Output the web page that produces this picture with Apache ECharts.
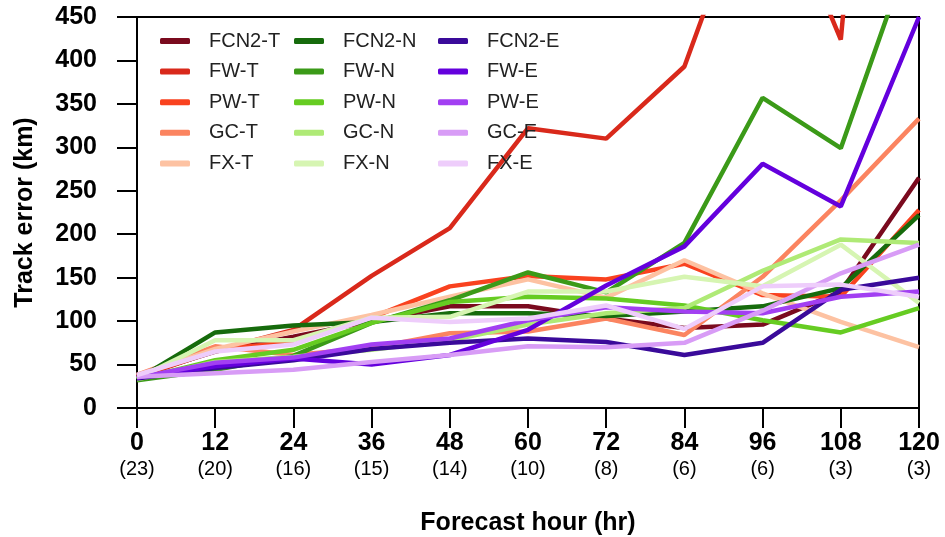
<!DOCTYPE html>
<html>
<head>
<meta charset="utf-8">
<script src="https://cdn.jsdelivr.net/npm/echarts@6/dist/echarts.min.js"></script>
<style>
html,body{margin:0;padding:0;background:#fff;}
#chart{width:945px;height:537px;}
</style>
</head>
<body>
<div id="chart"></div>
<script>
// ---- data ----
const hours = [0, 12, 24, 36, 48, 60, 72, 84, 96, 108, 120];
const caseCounts = ['23', '20', '16', '15', '14', '10', '8', '6', '6', '3', '3'];
const yTicks = [0, 50, 100, 150, 200, 250, 300, 350, 400, 450];

const names = ['FCN2-T', 'FW-T', 'PW-T', 'GC-T', 'FX-T',
               'FCN2-N', 'FW-N', 'PW-N', 'GC-N', 'FX-N',
               'FCN2-E', 'FW-E', 'PW-E', 'GC-E', 'FX-E'];

const fcn2T = [37, 65, 82, 100, 117, 117, 103, 92, 96, 134, 265];
const fwT   = [35, 66, 90, 152, 207, 322, 310, 393, 640, 424, 1400];
const pwT   = [36, 67, 76, 104, 140, 152, 148, 166, 130, 128, 228];
const gcT   = [38, 71, 61, 69, 86, 88, 103, 84, 151, 239, 333];
const fxT   = [37, 68, 88, 107, 128, 148, 127, 170, 132, 99, 70];

const fcn2N = [33, 87, 95, 99, 109, 109, 106, 111, 117, 138, 222];
const fwN   = [32, 44, 60, 98, 124, 156, 133, 190, 357, 299, 555];
const pwN   = [33, 55, 67, 98, 122, 128, 126, 118, 101, 87, 115];
const gcN   = [33, 53, 59, 67, 78, 96, 109, 115, 158, 194, 190];
const fxN   = [34, 78, 78, 104, 105, 134, 134, 151, 140, 188, 121];

const fcn2E = [34, 46, 55, 68, 75, 80, 76, 61, 75, 136, 150];
const fwE   = [35, 48, 57, 50, 61, 90, 141, 186, 281, 232, 450];
const pwE   = [35, 52, 58, 73, 80, 101, 116, 111, 109, 128, 134];
const gcE   = [36, 40, 44, 53, 61, 71, 70, 75, 112, 155, 188];
const fxE   = [38, 65, 73, 104, 99, 103, 118, 91, 140, 142, 128];

const seriesValues = [fcn2T, fwT, pwT, gcT, fxT, fcn2N, fwN, pwN, gcN, fxN, fcn2E, fwE, pwE, gcE, fxE];
const colors = ['#7a0a1e', '#d9291b', '#f9421f', '#fb8460', '#fdc2a2',
                '#166b0c', '#3b9a18', '#66cc22', '#afea76', '#d6f5b2',
                '#3a0a9a', '#6400dd', '#a23ff2', '#d89cf6', '#eecdfb'];

// ---- chart ----
const chart = echarts.init(document.getElementById('chart'), null, {renderer: 'canvas'});
const FONT = '"Liberation Sans", Arial, Helvetica, sans-serif';

const series = names.map((n, i) => ({
  name: n,
  type: 'line',
  color: colors[i],
  data: hours.map((h, k) => [h, seriesValues[i][k]]),
  showSymbol: false,
  symbol: 'none',
  clip: true,
  lineStyle: {width: 4.5, color: colors[i]},
  emphasis: {disabled: true}
}));

function legendCol(left, items) {
  return {
    orient: 'vertical',
    left: left,
    top: 26,
    itemWidth: 30,
    itemHeight: 6,
    itemGap: 10.6,
    icon: 'roundRect',
    data: items,
    textStyle: {fontFamily: FONT, fontSize: 20, color: '#222', padding: [0, 0, 0, 14]},
    selectedMode: false
  };
}

chart.setOption({
  animation: false,
  backgroundColor: '#fff',
  grid: {left: 137, right: 26, top: 17, bottom: 129, containLabel: false, outerBoundsMode: 'none',
         show: true, borderColor: '#000', borderWidth: 2, backgroundColor: 'transparent'},
  legend: [
    legendCol(155, names.slice(0, 5)),
    legendCol(289, names.slice(5, 10)),
    legendCol(433, names.slice(10, 15))
  ],
  xAxis: {
    type: 'value',
    min: 0, max: 120, interval: 12,
    name: 'Forecast hour (hr)',
    nameLocation: 'middle',
    nameGap: 103,
    nameTextStyle: {fontFamily: FONT, fontSize: 25, fontWeight: 'bold', color: '#000'},
    axisLine: {show: true, lineStyle: {color: '#000', width: 2}},
    axisTick: {show: true, inside: false, length: 20, lineStyle: {color: '#000', width: 2}},
    splitLine: {show: false},
    axisLabel: {
      margin: 23,
      formatter: v => '{a|' + v + '}\n{b|(' + caseCounts[Math.round(v / 12)] + ')}',
      rich: {
        a: {fontFamily: FONT, fontSize: 25, fontWeight: 'bold', color: '#000', lineHeight: 25},
        b: {fontFamily: FONT, fontSize: 20, color: '#000', lineHeight: 27}
      }
    }
  },
  yAxis: {
    type: 'value',
    min: yTicks[0], max: yTicks[yTicks.length - 1], interval: 50,
    name: 'Track error (km)',
    nameLocation: 'middle',
    nameGap: 99,
    nameTextStyle: {fontFamily: FONT, fontSize: 25, fontWeight: 'bold', color: '#000'},
    axisLine: {show: true, lineStyle: {color: '#000', width: 2}},
    axisTick: {show: true, inside: false, length: 20, lineStyle: {color: '#000', width: 2}},
    splitLine: {show: false},
    axisLabel: {margin: 40, fontFamily: FONT, fontSize: 25, fontWeight: 'bold', color: '#000'}
  },
  series: series
});
</script>
</body>
</html>
